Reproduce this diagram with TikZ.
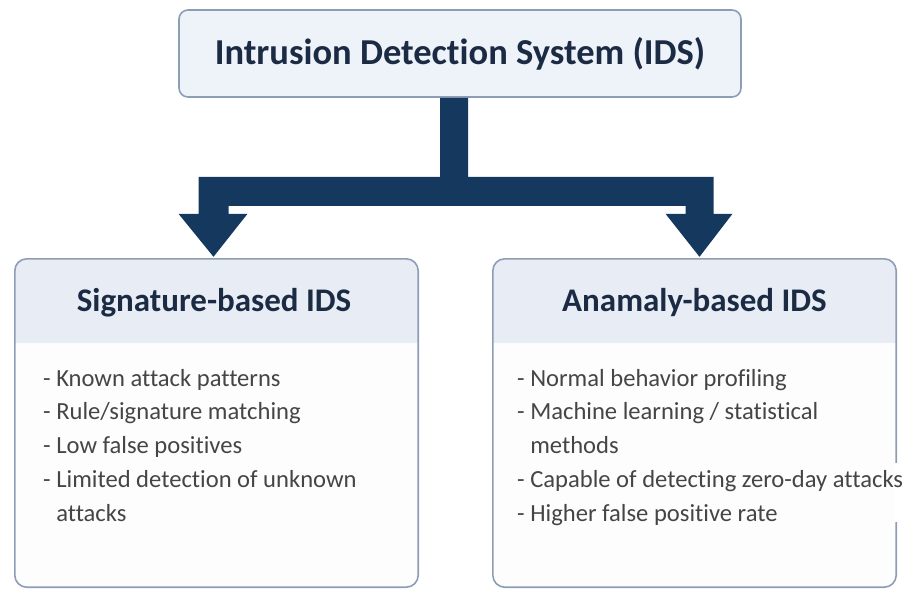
\documentclass[tikz,border=0pt]{standalone}
\usepackage{fontspec}
\setmainfont{Carlito}[Ligatures={NoCommon}]
\usetikzlibrary{calc}

\definecolor{arrownavy}{HTML}{15395E}
\definecolor{titleink}{HTML}{1C2B44}
\definecolor{bodyink}{HTML}{454545}
\definecolor{frameline}{HTML}{8E9DB6}
\definecolor{topfill}{HTML}{EEF2F9}
\definecolor{bandfill}{HTML}{E8EDF5}
\definecolor{bodyfill}{HTML}{FDFDFE}

\tikzset{
  rootbox/.style={draw=frameline, line width=1.6pt, fill=topfill, rounded corners=9pt,
    minimum width=562pt, minimum height=87pt, inner sep=0pt},
  branchbox/.style={fill=bodyfill, rounded corners=12pt,
    minimum width=403pt, minimum height=328pt, inner sep=0pt},
  frame/.style={draw=frameline, line width=1.6pt, rounded corners=12pt},
  roottext/.style={text=titleink, font=\fontsize{36.5}{43}\selectfont\bfseries},
  headtext/.style={text=titleink, font=\fontsize{33}{40}\selectfont\bfseries},
  listtext/.style={text=bodyink, font=\fontsize{24.6}{33.7}\selectfont,
    align=left, inner sep=0pt, anchor=north west},
  flow/.style={fill=arrownavy}
}

\begin{document}
\begin{tikzpicture}[x=1pt, y=-1pt]
\useasboundingbox (0,0) rectangle (904,590);

% root box
\node[rootbox] (ids) at (460,53.5) {};
\node[roottext] (idstitle) at (ids.center) {Intrusion Detection System (IDS)};

% the two branch boxes
\node[branchbox] (sig) at (216.5,423) {};
\node[branchbox] (ano) at (694.5,423) {};

\foreach \b in {sig,ano}{
  \begin{scope}
    \clip[rounded corners=12pt] (\b.north west) rectangle (\b.south east);
    \fill[bandfill] (\b.north west) rectangle ($(\b.north east)+(0,84)$);
  \end{scope}
  \draw[frame] (\b.north west) rectangle (\b.south east);
}

% the long list line runs over the right frame
\fill[white] (895,463) rectangle (901,522);

\node[headtext] (sighead) at (214,303) {Signature-based IDS};
\node[headtext] (anohead) at (694.5,303) {Anamaly-based IDS};

\node[listtext] (siglist) at (43,369) {- Known attack patterns\\
- Rule/signature matching\\
- Low false positives\\
- Limited detection of unknown\\
\hphantom{- }attacks};

\node[listtext] (anolist) at (517,369) {- Normal behavior profiling\\
- Machine learning / statistical\\
\hphantom{- }methods\\
- Capable of detecting zero-day attacks\\
- Higher false positive rate};

% split arrow from the root to both branches
\coordinate (stem) at ($(ids.south)+(-6,0)$);
\coordinate (bar) at ($(ids.south)+(0,79)$);
\coordinate (tipL) at ($(sig.north)+(-3,-2)$);
\coordinate (tipR) at ($(ano.north)+(5,-2)$);

\fill[flow]
  ($(stem)+(-14,0)$) -- ($(stem |- bar)+(-14,0)$)
  -- ($(tipL |- bar)+(-15,0)$) -- ($(tipL)+(-15,-43)$)
  -- ($(tipL)+(-35,-43)$) -- (tipL) -- ($(tipL)+(34,-43)$)
  -- ($(tipL)+(15,-43)$) -- ($(tipL |- bar)+(15,29)$)
  -- ($(tipR |- bar)+(-14,29)$) -- ($(tipR)+(-14,-43)$)
  -- ($(tipR)+(-34,-43)$) -- (tipR) -- ($(tipR)+(33,-43)$)
  -- ($(tipR)+(14,-43)$) -- ($(tipR |- bar)+(14,0)$)
  -- ($(stem |- bar)+(14,0)$) -- ($(stem)+(14,0)$) -- cycle;

\end{tikzpicture}
\end{document}
